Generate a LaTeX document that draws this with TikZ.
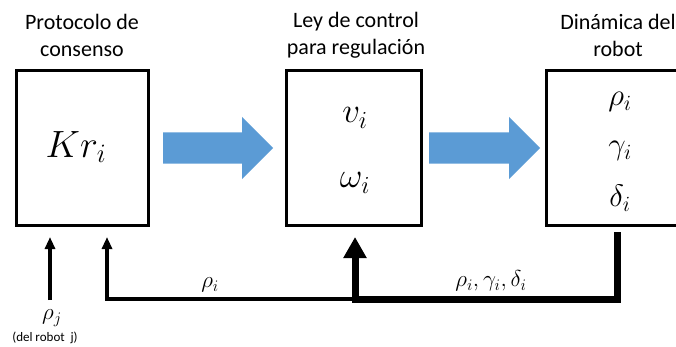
\RequirePackage{fix-cm}
\documentclass[tikz,border=0pt]{standalone}
\usepackage{fontspec}
\setmainfont{Carlito}
\usetikzlibrary{arrows.meta,shapes.arrows}
\definecolor{arrowblue}{HTML}{5B9BD5}

\tikzset{
  block/.style={draw, line width=3pt, minimum width=132pt, minimum height=155pt, inner sep=0pt},
  title/.style={align=center, font=\fontsize{22}{27}\selectfont},
  fatarrow/.style={single arrow, fill=arrowblue, anchor=tail, minimum height=110pt, inner xsep=0pt,
    inner ysep=15.5pt, single arrow head extend=15.5pt},
  feed/.style={line width=3.5pt, -{Triangle[width=10pt,length=12pt]}},
  feedbig/.style={line width=7pt, -{Triangle[width=22pt,length=21pt]}},
  lbl/.style={font=\fontsize{23}{26}\selectfont},
}

\begin{document}
\begin{tikzpicture}[x=1pt, y=-1pt]
\useasboundingbox (0,0) rectangle (676,346);

% consensus block
\node[title] (cons-title) at (82,35) {Protocolo de\\consenso};
\node[block] (cons) at (82.5,148) {};
\node (kri) at (76,147) {\fontsize{38}{40}\selectfont $Kr_i$};

% control law block
\node[title] (ctrl-title) at (356,35) {Ley de control\\para regulación};
\node[block, minimum width=135pt] (ctrl) at (354,148) {};
\node (vi) at (355,118) {\fontsize{35}{38}\selectfont $v_i$};
\node (wi) at (355,183) {\fontsize{35}{38}\selectfont $\omega_i$};

% robot dynamics block
\node[title] (rob-title) at (618,35) {Dinámica del\\robot};
\node[block, minimum width=143pt] (rob) at (618,148) {};
\node (rhoi) at (620,102) {\fontsize{31}{34}\selectfont $\rho_i$};
\node (gammai) at (620,151) {\fontsize{31}{34}\selectfont $\gamma_i$};
\node (deltai) at (620,198) {\fontsize{31}{34}\selectfont $\delta_i$};

% forward arrows
\node[fatarrow] (a1) at (163,148) {};
\node[fatarrow, minimum height=111pt] (a2) at (429,148) {};

% feedback
\coordinate (fb-out) at (617,299);
\coordinate (fb-join) at (355,299);
\coordinate (fb-left) at (107,299);
\draw[feedbig] ([yshift=-5pt]rob.south -| fb-out) -- (fb-out) -- (fb-join) -- ([yshift=-10pt]ctrl.south -| fb-join);
\draw[feed] (fb-join) -- (fb-left) -- ([yshift=-10pt]cons.south -| fb-left);
\node[lbl] (rho-lbl) at (210,285) {$\rho_i$};
\node[lbl] (state-lbl) at (491,281) {$\rho_i,\gamma_i,\delta_i$};

% input from the neighbour
\coordinate (nb-in) at (50,300);
\draw[feed] (nb-in) -- ([yshift=-10pt]cons.south -| nb-in);
\node[lbl] (rhoj) at (52,318) {$\rho_j$};
\node[font=\fontsize{13}{15}\selectfont] (rhoj-src) at (45,338) {(del robot\ \ j)};
\end{tikzpicture}
\end{document}
